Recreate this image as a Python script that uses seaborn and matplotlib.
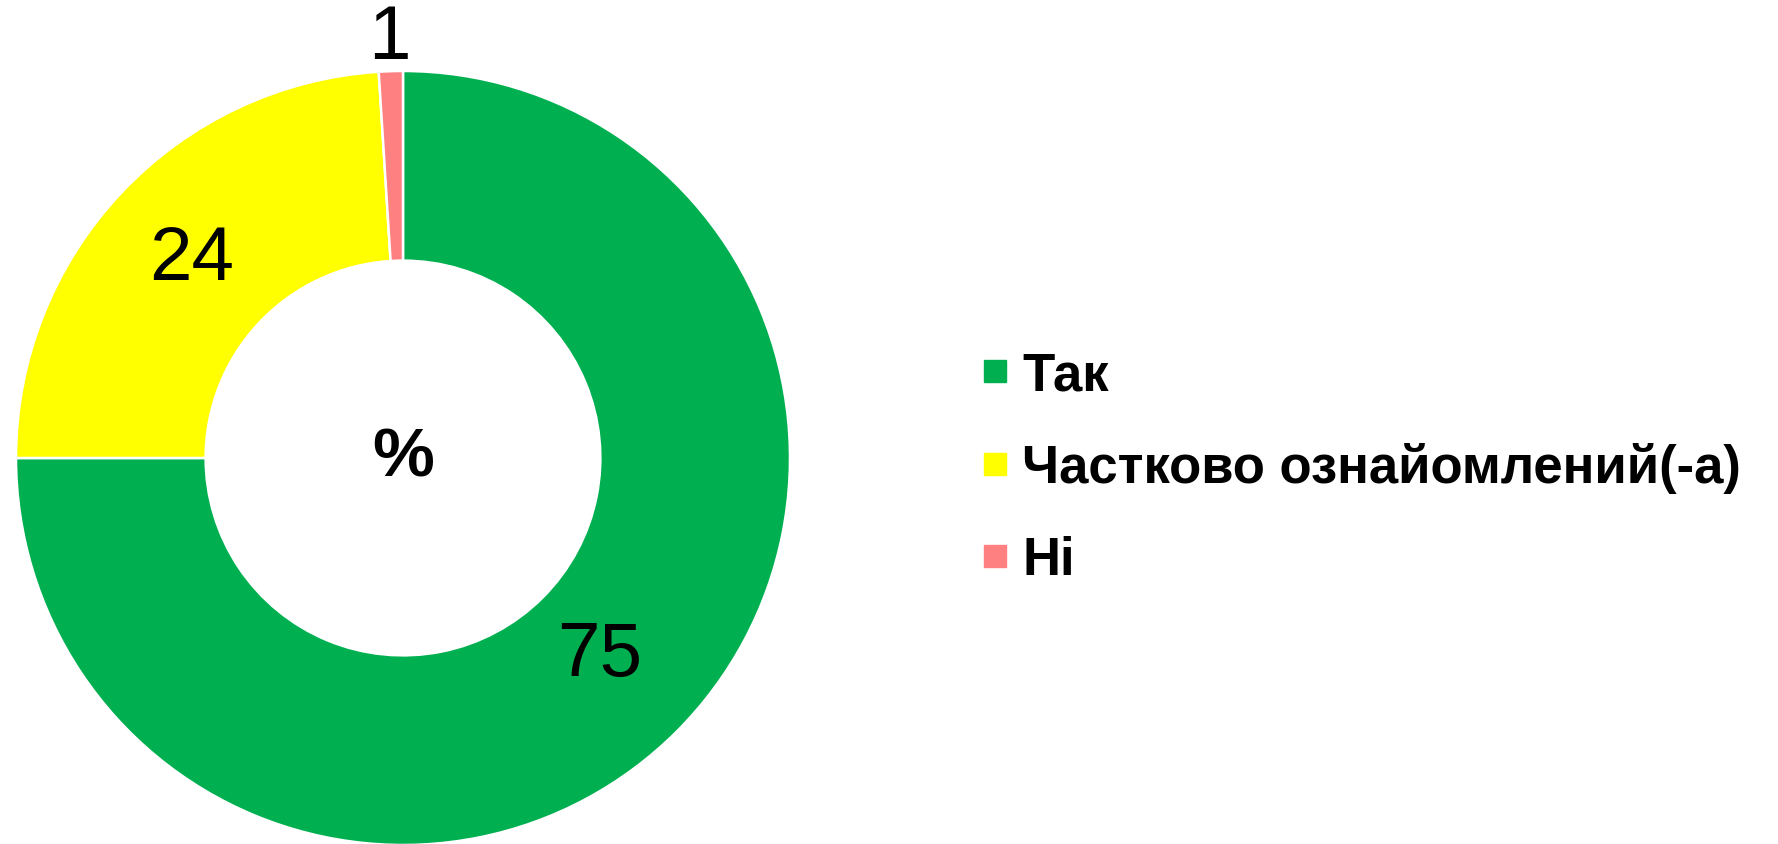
import numpy as np
import matplotlib
matplotlib.use("Agg")
import matplotlib.pyplot as plt
import seaborn as sns
from matplotlib.lines import Line2D

# Дані
categorias = ["Так", "Частково ознайомлений(-а)", "Ні"]
valores = [75, 24, 1]
cores = ["#00B050", "#FFFF00", "#FF8080"]
rotulos = ["75", "24", "1"]
texto_centro = "%"

# Estilo
sns.set_theme(style="white")
plt.rcParams['font.family'] = ['Liberation Sans', 'DejaVu Sans']
plt.rcParams['text.color'] = 'black'

W, H = 1778, 845
fig = plt.figure(figsize=(W / 100, H / 100), dpi=100)

# posição do anel em pixels (centro e raio)
cx, cy, r = 403, 459, 387
ax = fig.add_axes([(cx - r) / W, (H - cy - r) / H, 2 * r / W, 2 * r / H])

wedges, _ = ax.pie(valores, colors=cores, startangle=90, counterclock=False,
                   radius=1.0,
                   wedgeprops=dict(width=0.49, edgecolor='white', linewidth=1.8))
ax.set_xlim(-1, 1)
ax.set_ylim(-1, 1)
ax.set_aspect('equal')
ax.axis('off')

# rótulos dos valores, a partir dos ângulos das fatias
dist_rotulos = [0.72, 0.75, 1.085]
total = float(sum(valores))
acum = np.cumsum([0] + valores[:-1])
for v, a0, txt, d in zip(valores, acum, rotulos, dist_rotulos):
    ang = np.deg2rad(90 - 360 * (a0 + v / 2) / total)
    ax.text(d * np.cos(ang), d * np.sin(ang), txt, ha='center', va='center',
            fontsize=55, color='black')

ax.text(0, 0, texto_centro, ha='center', va='center', fontsize=50,
        fontweight='bold', color='black')

handles = [Line2D([0], [0], marker='s', linestyle='none', markersize=16.5,
                  markerfacecolor=c, markeredgecolor=c) for c in cores]
leg = fig.legend(handles, categorias, loc='center left',
                 bbox_to_anchor=(981.5 / W, (H - 469) / H),
                 frameon=False, borderpad=0, borderaxespad=0,
                 handlelength=0.5, handletextpad=0.27, labelspacing=0.79,
                 prop=dict(family=['Liberation Sans', 'DejaVu Sans'], weight='bold', size=38))
for t in leg.get_texts():
    t.set_color('black')

fig.savefig("out.png", dpi=100)
